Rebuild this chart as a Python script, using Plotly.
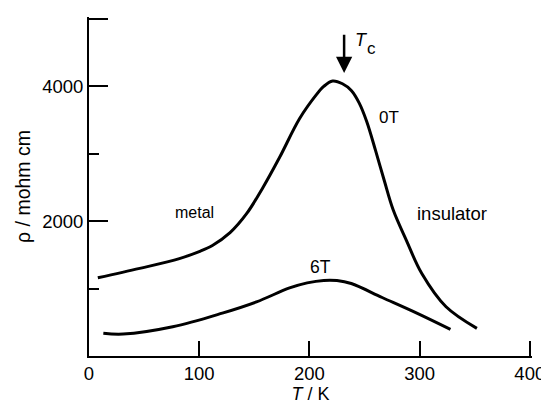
import plotly.graph_objects as go

# 0 T curve
t_0T = [8, 46, 82, 100, 112, 128, 143, 158, 173, 191, 206, 213, 221, 230, 238, 245, 252, 260, 268, 276, 288, 302, 324, 352]
rho_0T = [1160, 1300, 1445, 1550, 1640, 1830, 2111, 2504, 2948, 3520, 3870, 4000, 4080, 4040, 3940, 3760, 3480, 3050, 2600, 2170, 1716, 1223, 730, 410]

# 6 T curve
t_6T = [13, 31, 76, 121, 152, 182, 198, 213, 225, 238, 266, 297, 328]
rho_6T = [336, 325, 433, 636, 803, 1010, 1085, 1122, 1120, 1075, 868, 640, 395]

x_ticks = [0, 100, 200, 300, 400]
y_ticks = [2000, 4000, 5000]
y_ticktext = ["2000", "4000", ""]

FONT = "Liberation Sans, Arial, Helvetica, sans-serif"

# the page body has an 8px margin, so the figure is 8px smaller
fig = go.Figure()
for xs, ys in ((t_0T, rho_0T), (t_6T, rho_6T)):
    fig.add_trace(go.Scatter(x=xs, y=ys, mode="lines",
                             line=dict(color="black", width=3, shape="spline", smoothing=1.0),
                             showlegend=False, hoverinfo="skip", cliponaxis=False))

fig.update_layout(
    width=541, height=400,
    margin=dict(l=81, r=17, t=9, b=52),
    paper_bgcolor="white", plot_bgcolor="white",
    font=dict(family=FONT, size=17, color="black"),
    xaxis=dict(range=[0, 402], tickvals=x_ticks, ticks="inside", ticklen=15, tickwidth=2,
               tickcolor="black", showline=True, linecolor="black", linewidth=2,
               showgrid=False, zeroline=False, tickfont=dict(size=18.5), automargin=False,
               title=dict(text="<i>T</i> / K", font=dict(size=18), standoff=2)),
    yaxis=dict(range=[0, 5030], tickvals=y_ticks, ticktext=y_ticktext, ticks="inside",
               ticklen=19, tickwidth=2, tickcolor="black", showline=True, linecolor="black",
               linewidth=2, showgrid=False, zeroline=False, tickfont=dict(size=18.5),
               automargin=False,
               minor=dict(tickvals=[1000, 3000], ticks="inside", ticklen=10, tickwidth=2,
                          tickcolor="black", showgrid=False),
               title=dict(text="ρ / mohm cm", font=dict(size=19.5), standoff=6)),
)

annos = [
    dict(x=96, y=2130, text="metal", size=16),
    dict(x=329, y=2115, text="insulator", size=18.5),
    dict(x=272, y=3535, text="0T", size=17),
    dict(x=210, y=1321, text="6T", size=17.5),
    dict(x=247, y=4689, text="<i>T</i>", size=18),
    dict(x=256, y=4563, text="c", size=17),
]
for a in annos:
    fig.add_annotation(x=a["x"], y=a["y"], text=a["text"], showarrow=False,
                       font=dict(family=FONT, size=a["size"], color="black"))

fig.add_annotation(x=231.5, y=4200, ax=231.5, ay=4790, axref="x", ayref="y",
                   xref="x", yref="y", text="", showarrow=True,
                   arrowhead=2, arrowsize=1.3, arrowwidth=2.5, arrowcolor="black")

fig.write_html("out.html")
